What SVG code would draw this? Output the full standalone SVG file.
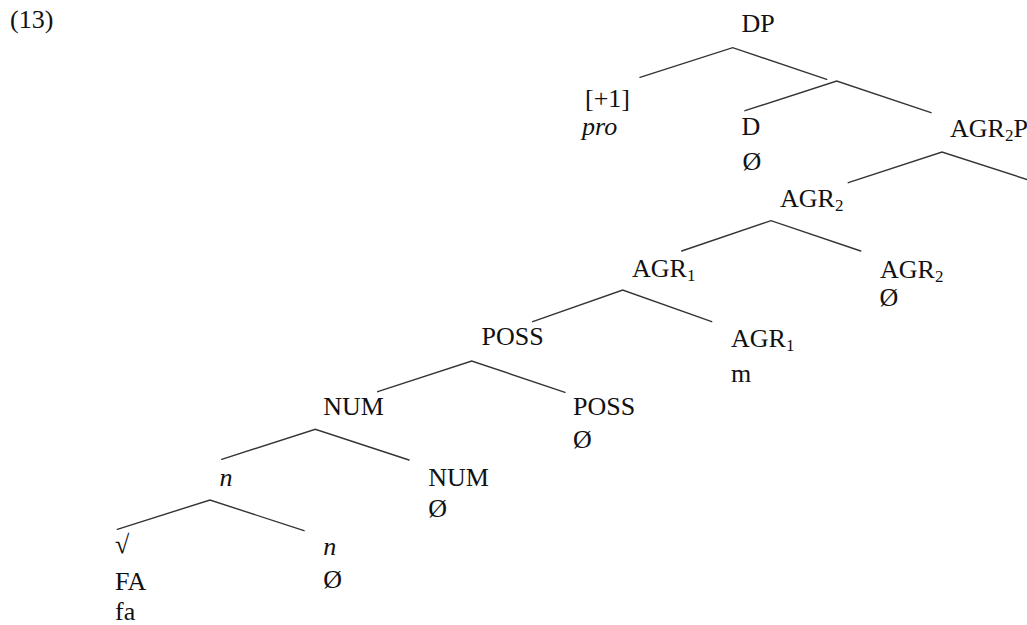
<svg xmlns="http://www.w3.org/2000/svg" width="1027" height="625" viewBox="0 0 1027 625">
<style>
.t{font-size:26px;fill:#111}
.it{font-style:italic}
.sub{font-size:17px}
.edge{stroke:#333;stroke-width:1.4;fill:none;stroke-linecap:round}
</style>
<rect width="1027" height="625" fill="#fff"/>
<g class="t" font-family="Liberation Serif, Times New Roman, serif">
<text x="10" y="28">(13)</text>
<g id="n-DP"><text x="741.5" y="32">DP</text></g>
<g id="n-pro"><text x="585" y="106.5">[+1]</text><text class="it" x="582" y="135">pro</text></g>
<g id="n-D"><text x="741.5" y="135">D</text><text x="742.5" y="169.5">Ø</text></g>
<g id="n-AGR2P"><text x="950" y="136.5">AGR<tspan class="sub" dy="4">2</tspan><tspan dy="-4">P</tspan></text></g>
<g id="n-AGR2"><text x="780" y="206.5">AGR<tspan class="sub" dy="4">2</tspan></text></g>
<g id="n-AGR2-head"><text x="880" y="278">AGR<tspan class="sub" dy="4">2</tspan></text><text x="879.5" y="306">Ø</text></g>
<g id="n-AGR1"><text x="632" y="276.5">AGR<tspan class="sub" dy="4">1</tspan></text></g>
<g id="n-AGR1-head"><text x="731" y="346.5">AGR<tspan class="sub" dy="4">1</tspan></text><text x="731" y="381.5">m</text></g>
<g id="n-POSS"><text x="481.5" y="344.5">POSS</text></g>
<g id="n-POSS-head"><text x="573" y="415">POSS</text><text x="573" y="447.5">Ø</text></g>
<g id="n-NUM"><text x="323.3" y="415">NUM</text></g>
<g id="n-NUM-head"><text x="428.3" y="486">NUM</text><text x="428.3" y="517">Ø</text></g>
<g id="n-n"><text class="it" x="219.5" y="486">n</text></g>
<g id="n-n-head"><text class="it" x="323.3" y="555">n</text><text x="323.3" y="588">Ø</text></g>
<g id="n-root"><text x="115" y="553">√</text><text x="115" y="590">FA</text><text x="115" y="620">fa</text></g>
</g>
<g id="edges">
<path class="edge" d="M640,77.3 L732.7,47.7 L826.7,79.3"/>
<path class="edge" d="M745,110.7 L836.7,81 L931,112.7"/>
<path class="edge" d="M848.3,182.7 L942,152 L1027,179.5"/>
<path class="edge" d="M681.7,251 L771,220.7 L860.7,251"/>
<path class="edge" d="M532.7,321.7 L622.7,290 L711.7,321.7"/>
<path class="edge" d="M377.7,391.7 L471.7,361 L565,392.3"/>
<path class="edge" d="M221.7,459.3 L315.3,429.3 L409,460"/>
<path class="edge" d="M117.3,529.3 L210,500 L304,530.7"/>
</g>
</svg>
